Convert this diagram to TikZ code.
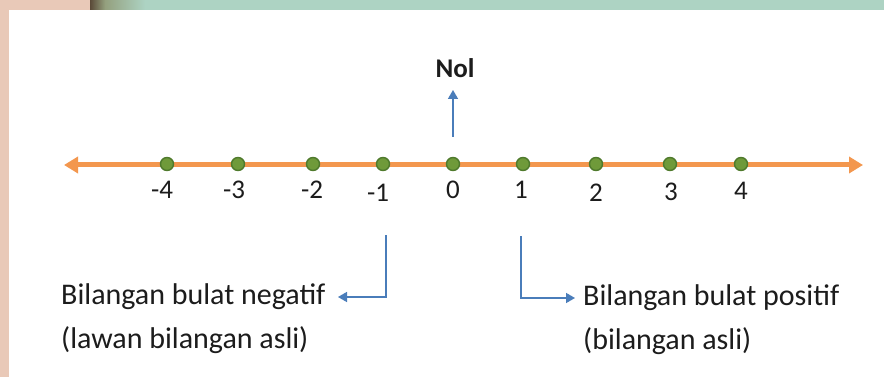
\documentclass[tikz,border=0pt]{standalone}
\usepackage{fontspec}
\setmainfont{Carlito}
\usetikzlibrary{arrows.meta}
\definecolor{pinkband}{HTML}{E9C9B8}
\definecolor{mintband}{HTML}{ADD3C3}
\definecolor{darkband}{HTML}{5A4A38}
\definecolor{oliveband}{HTML}{94A07E}
\definecolor{lineorange}{HTML}{F3974E}
\definecolor{dotgreen}{HTML}{6F9A3A}
\definecolor{dotrim}{HTML}{4F7A2C}
\definecolor{connblue}{HTML}{4A7DBA}
\definecolor{txt}{HTML}{1C1C1C}
\tikzset{
  numline/.style={line width=5pt, draw=lineorange,
    {Triangle[length=14pt,width=16pt]}-{Triangle[length=14pt,width=16pt]}},
  dotnode/.style={circle, fill=dotgreen, draw=dotrim, line width=1.4pt,
    minimum size=13pt, inner sep=0pt},
  numlabel/.style={font=\fontsize{27}{30}\selectfont, text=txt, inner sep=0pt},
  desc/.style={font=\fontsize{30}{34}\selectfont, text=txt, inner sep=0pt, anchor=west},
  conn/.style={draw=connblue, line width=1.6pt, -{Triangle[length=9pt,width=10pt]}},
}
\begin{document}
\begin{tikzpicture}[x=1pt,y=-1pt]
\useasboundingbox (0,0) rectangle (884,377);
% frame
\fill[white] (0,0) rectangle (884,377);
\fill[pinkband] (0,0) rectangle (9,377);
\fill[pinkband] (0,0) rectangle (90,10);
\shade[left color=darkband, right color=oliveband] (90,0) rectangle (105,10);
\shade[left color=oliveband, right color=mintband] (105,0) rectangle (145,10);
\fill[mintband] (145,0) rectangle (884,10);
% number line
\coordinate (lend) at (64,165);
\coordinate (rend) at (863,165);
\draw[numline] (lend) -- (rend);
% dots and labels
\foreach \n/\x/\lx/\ly/\t in {m4/167/162/190/-4, m3/238/234/190/-3, m2/313/312/190/-2,
    m1/383/378/193/-1, z0/453/453/190/0, p1/523/521/190/1, p2/596/596/193/2,
    p3/670/671/192/3, p4/741/741/191/4} {
  \node[dotnode] (d\n) at (\x,164) {};
  \node[numlabel] (l\n) at (\lx,\ly) {\t};
}
% Nol
\node[font=\fontsize{27}{32}\selectfont\bfseries, text=txt, inner sep=0pt] (nol) at (455,68) {Nol};
\coordinate (c0) at (453,137);
\draw[conn] (c0) -- (c0 |- 0,90);
% negative
\node[desc] (neg1) at (61,297) {Bilangan bulat negatif};
\node[desc] (neg2) at (61,340) {(lawan bilangan asli)};
\coordinate (c1) at (386,235);
\draw[conn] (c1) |- (338,297);
% positive
\node[desc] (pos1) at (583,298) {Bilangan bulat positif};
\node[desc] (pos2) at (583,341) {(bilangan asli)};
\coordinate (c2) at (521,236);
\draw[conn] (c2) |- (575,298);
\end{tikzpicture}
\end{document}
